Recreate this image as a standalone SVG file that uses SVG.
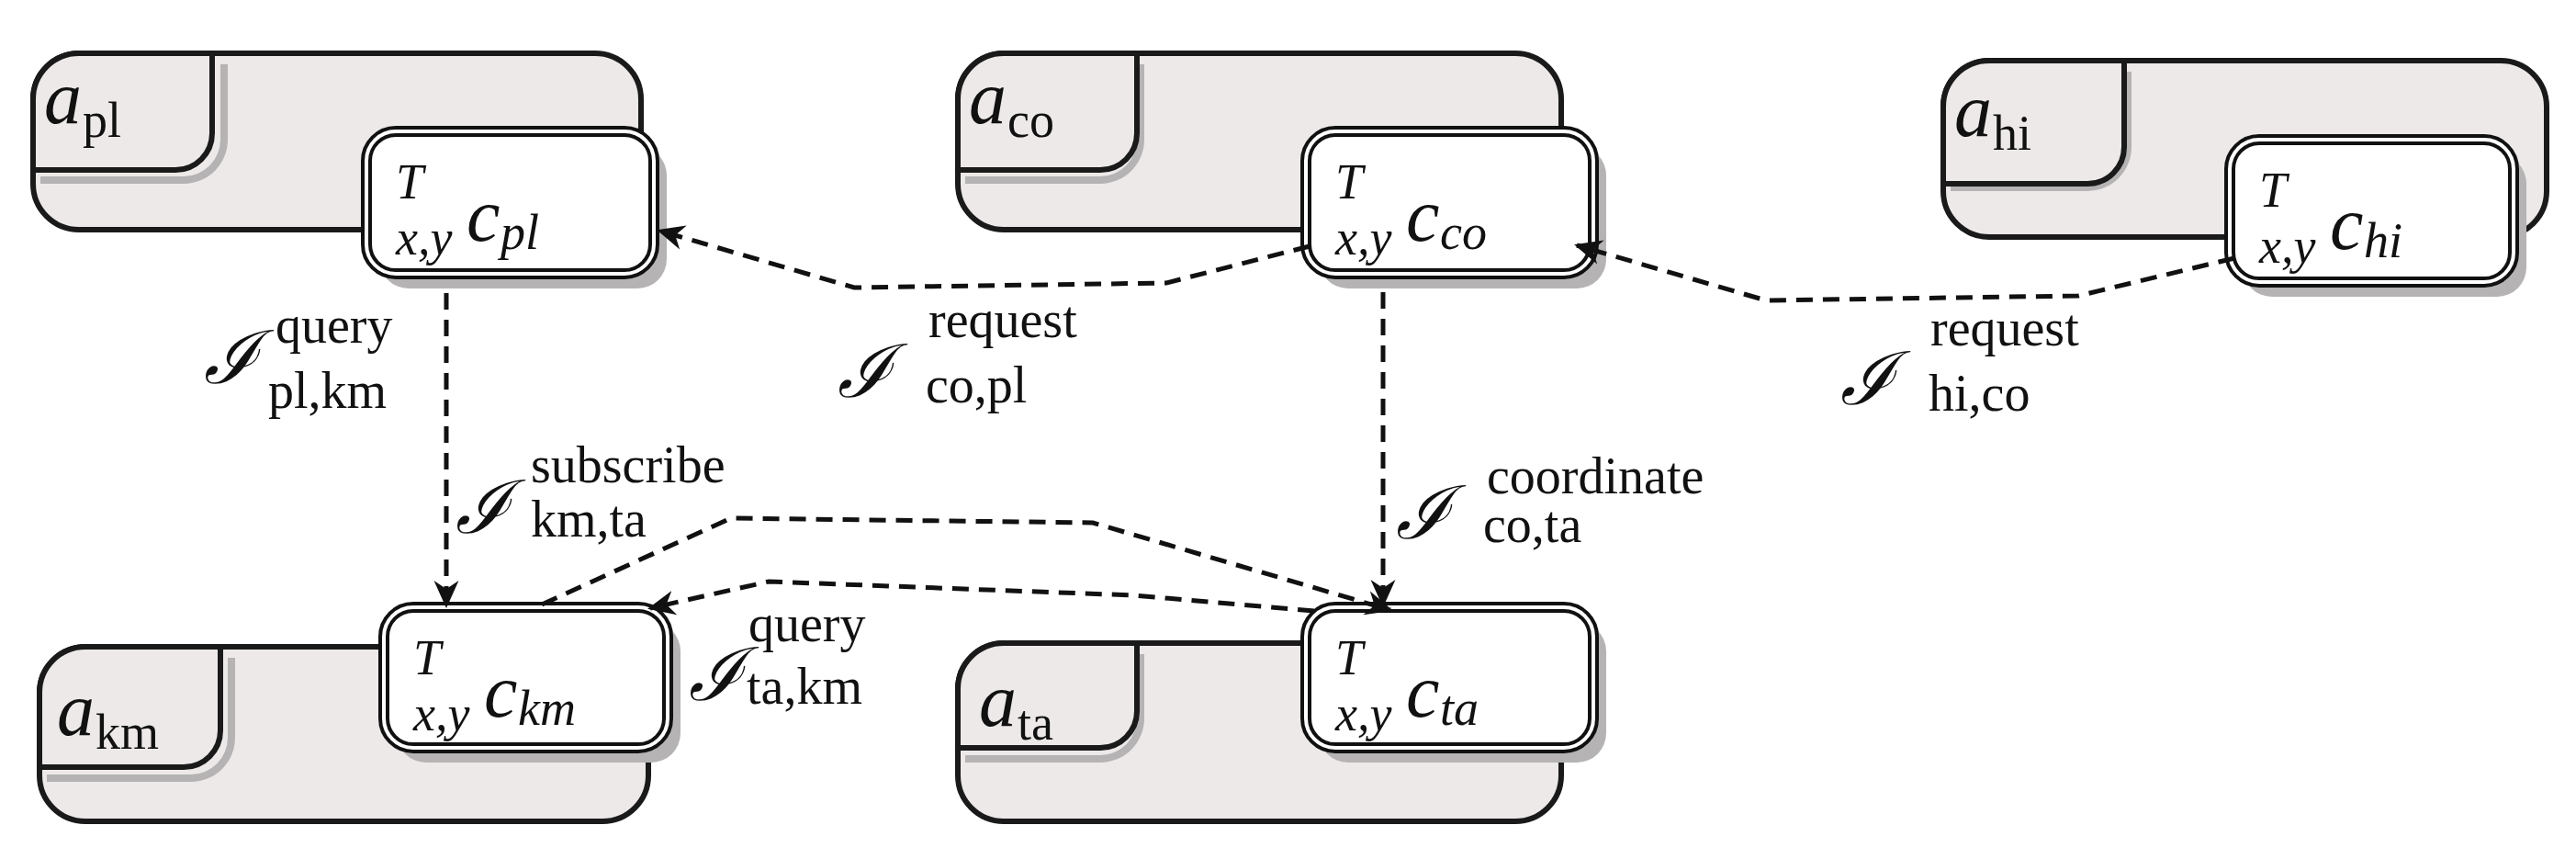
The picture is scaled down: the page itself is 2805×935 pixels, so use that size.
<svg xmlns="http://www.w3.org/2000/svg" width="2805" height="935" viewBox="0 0 2805 935" font-family="'Liberation Serif', 'Times New Roman', serif">
<style>
.ob{fill:#ece9e8;stroke:#1a1a1a;stroke-width:6}
.tab{fill:#ece9e8;stroke:#1a1a1a;stroke-width:6}
.sh{fill:#b5b3b3}
.cb{fill:#fff;stroke:#111;stroke-width:12}
.cw{fill:none;stroke:#fff;stroke-width:4}
.con{fill:none;stroke:#111;stroke-width:5;stroke-dasharray:18,11}
text{font-family:"Liberation Serif","Times New Roman",serif;fill:#111}
.it{font-style:italic}
.big{font-size:82px}
.sm{font-size:54px}
.scr{font-size:80px;font-family:"DejaVu Serif",serif;font-style:italic}
.lb{font-size:56px}
</style>
<defs>
<marker id="ah" viewBox="0 0 20 20" refX="18" refY="10" markerWidth="30" markerHeight="30" markerUnits="userSpaceOnUse" orient="auto">
<path d="M0,1 L20,10 L0,19 L6,10 Z" fill="#111"/>
</marker>
</defs>

<g id="a_pl">
<rect class="ob" x="36" y="58" width="662" height="192" rx="50"/>
<path class="sh" d="M44,192 H200 a40,40 0 0 0 40,-40 V70 h8 V152 a48,48 0 0 1 -48,48 H44Z"/>
<path class="tab" d="M36,185 V108 a50,50 0 0 1 50,-50 H231 V145 a40,40 0 0 1 -40,40 Z"/>
<text x="48" y="134" class="it big">a</text><text x="90" y="149" class="sm">pl</text>
</g>
<g id="c_pl">
<rect class="sh" x="413" y="159" width="313" height="155" rx="32"/>
<rect class="cb" x="399" y="143" width="313" height="155" rx="32"/>
<rect class="cw" x="399" y="143" width="313" height="155" rx="32"/>
<text x="431" y="216" class="it sm">T</text><text x="431" y="277" class="it sm">x,y</text>
<text x="508" y="262" class="it big">c</text><text x="545" y="271" class="it sm">pl</text>
</g>

<g id="a_co">
<rect class="ob" x="1043" y="58" width="657" height="192" rx="50"/>
<path class="sh" d="M1051,192 H1198 a40,40 0 0 0 40,-40 V70 h8 V152 a48,48 0 0 1 -48,48 H1051Z"/>
<path class="tab" d="M1043,185 V108 a50,50 0 0 1 50,-50 H1238 V145 a40,40 0 0 1 -40,40 Z"/>
<text x="1055" y="134" class="it big">a</text><text x="1097" y="149" class="sm">co</text>
</g>
<g id="c_co">
<rect class="sh" x="1436" y="159" width="313" height="155" rx="32"/>
<rect class="cb" x="1422" y="143" width="313" height="155" rx="32"/>
<rect class="cw" x="1422" y="143" width="313" height="155" rx="32"/>
<text x="1454" y="216" class="it sm">T</text><text x="1454" y="277" class="it sm">x,y</text>
<text x="1531" y="262" class="it big">c</text><text x="1568" y="271" class="it sm">co</text>
</g>

<g id="a_hi">
<rect class="ob" x="2116" y="66" width="657" height="192" rx="50"/>
<path class="sh" d="M2124,200 H2273 a40,40 0 0 0 40,-40 V78 h8 V160 a48,48 0 0 1 -48,48 H2124Z"/>
<path class="tab" d="M2116,200 V116 a50,50 0 0 1 50,-50 H2313 V160 a40,40 0 0 1 -40,40 Z"/>
<text x="2128" y="148" class="it big">a</text><text x="2170" y="163" class="sm">hi</text>
</g>
<g id="c_hi">
<rect class="sh" x="2442" y="168" width="309" height="155" rx="32"/>
<rect class="cb" x="2428" y="152" width="309" height="155" rx="32"/>
<rect class="cw" x="2428" y="152" width="309" height="155" rx="32"/>
<text x="2460" y="225" class="it sm">T</text><text x="2460" y="286" class="it sm">x,y</text>
<text x="2537" y="271" class="it big">c</text><text x="2574" y="280" class="it sm">hi</text>
</g>

<g id="a_km">
<rect class="ob" x="43" y="704" width="663" height="190" rx="50"/>
<path class="sh" d="M51,843 H208 a40,40 0 0 0 40,-40 V716 h8 V803 a48,48 0 0 1 -48,48 H51Z"/>
<path class="tab" d="M43,835 V754 a50,50 0 0 1 50,-50 H240 V795 a40,40 0 0 1 -40,40 Z"/>
<text x="62" y="800" class="it big">a</text><text x="104" y="815" class="sm">km</text>
</g>
<g id="c_km">
<rect class="sh" x="432" y="677" width="309" height="153" rx="32"/>
<rect class="cb" x="418" y="661" width="309" height="153" rx="32"/>
<rect class="cw" x="418" y="661" width="309" height="153" rx="32"/>
<text x="450" y="734" class="it sm">T</text><text x="450" y="795" class="it sm">x,y</text>
<text x="527" y="780" class="it big">c</text><text x="564" y="789" class="it sm">km</text>
</g>

<g id="a_ta">
<rect class="ob" x="1043" y="700" width="657" height="194" rx="50"/>
<path class="sh" d="M1051,822 H1198 a40,40 0 0 0 40,-40 V712 h8 V782 a48,48 0 0 1 -48,48 H1051Z"/>
<path class="tab" d="M1043,814 V750 a50,50 0 0 1 50,-50 H1238 V774 a40,40 0 0 1 -40,40 Z"/>
<text x="1066" y="790" class="it big">a</text><text x="1108" y="805" class="sm">ta</text>
</g>
<g id="c_ta">
<rect class="sh" x="1436" y="677" width="313" height="153" rx="32"/>
<rect class="cb" x="1422" y="661" width="313" height="153" rx="32"/>
<rect class="cw" x="1422" y="661" width="313" height="153" rx="32"/>
<text x="1454" y="734" class="it sm">T</text><text x="1454" y="795" class="it sm">x,y</text>
<text x="1531" y="780" class="it big">c</text><text x="1568" y="789" class="it sm">ta</text>
</g>

<g id="connectors">
<path class="con" marker-end="url(#ah)" d="M1426,268 L1270,308 L930,313 L718,251"/>
<path class="con" marker-end="url(#ah)" d="M2433,281 L2263,322 L1923,327 L1717,267"/>
<path class="con" marker-end="url(#ah)" d="M1506,318 V658"/>
<path class="con" marker-end="url(#ah)" d="M486,319 V659"/>
<path class="con" marker-end="url(#ah)" d="M590,658 L796,564 L1190,569 L1514,664"/>
<path class="con" marker-end="url(#ah)" d="M1431,665 L1234,648 L837,633 L708,662"/>
</g>

<g id="labels">
<text x="222" y="417" class="scr">ℐ</text><text x="300" y="373" class="lb">query</text><text x="292" y="444" class="lb">pl,km</text>
<text x="912" y="432" class="scr">ℐ</text><text x="1011" y="367" class="lb">request</text><text x="1008" y="438" class="lb">co,pl</text>
<text x="2004" y="440" class="scr">ℐ</text><text x="2102" y="376" class="lb">request</text><text x="2100" y="447" class="lb">hi,co</text>
<text x="496" y="580" class="scr">ℐ</text><text x="578" y="525" class="lb">subscribe</text><text x="578" y="584" class="lb">km,ta</text>
<text x="1520" y="586" class="scr">ℐ</text><text x="1619" y="537" class="lb">coordinate</text><text x="1615" y="590" class="lb">co,ta</text>
<text x="750" y="762" class="scr">ℐ</text><text x="815" y="698" class="lb">query</text><text x="813" y="766" class="lb">ta,km</text>
</g>
</svg>
